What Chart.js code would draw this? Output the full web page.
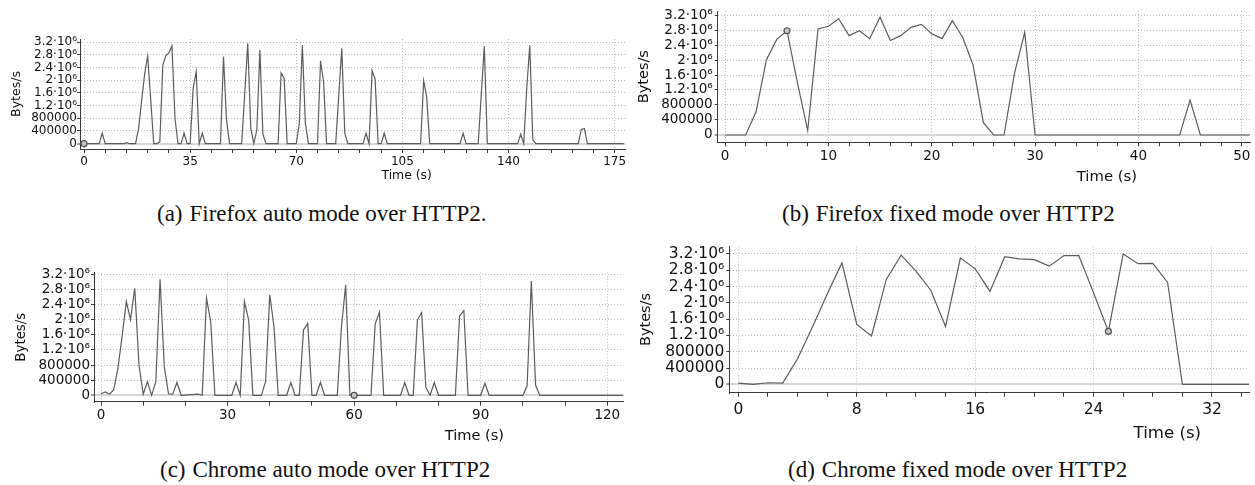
<!DOCTYPE html>
<html>
<head>
<meta charset="utf-8">
<script src="https://cdn.jsdelivr.net/npm/chart.js@4.4.1/dist/chart.umd.min.js"></script>
<style>
  html, body { margin: 0; padding: 0; background: #fff; }
  body { width: 1255px; height: 485px; position: relative; overflow: hidden; }
  canvas { position: absolute; }
  .cap { position: absolute; font-family: "Liberation Serif", "Times New Roman", serif; font-size: 23px; line-height: 1; color: #111; white-space: nowrap; }
  .cap span { margin-right: 7px; }
</style>
</head>
<body>
<canvas id="chartA" width="630" height="195" style="left:0;top:0"></canvas>
<canvas id="chartB" width="635" height="195" style="left:620px;top:0"></canvas>
<canvas id="chartC" width="630" height="200" style="left:0;top:255px"></canvas>
<canvas id="chartD" width="635" height="215" style="left:620px;top:235px"></canvas>

<div class="cap" style="left:157px;top:202px"><span>(a)</span>Firefox auto mode over HTTP2.</div>
<div class="cap" style="left:782px;top:202px"><span>(b)</span>Firefox fixed mode over HTTP2</div>
<div class="cap" style="left:160px;top:458px"><span>(c)</span>Chrome auto mode over HTTP2</div>
<div class="cap" style="left:788px;top:458px"><span>(d)</span>Chrome fixed mode over HTTP2</div>

<script>
// y axis (shared by all four panels)
const yTickValues = [0, 400000, 800000, 1200000, 1600000, 2000000, 2400000, 2800000, 3200000];
const yTickLabels = ['0', '400000', '800000', '1.2·10⁶', '1.6·10⁶', '2·10⁶', '2.4·10⁶', '2.8·10⁶', '3.2·10⁶'];

// (a) Firefox auto mode - time (s) / bytes per second
const aTime = [
    0, 5, 6, 7,  13, 14, 15,  17, 18, 20, 21,
    23, 24, 25, 26, 27, 28, 29, 30,
    31, 32, 33, 34, 35, 36, 37, 38, 39, 40,
    45, 46, 47, 48,  52, 54, 55, 56, 57, 58, 59, 60,
    64, 65, 66, 67,  70, 71, 72, 73, 74,  77, 78, 79, 80,  83, 85, 86, 87,
    92, 93, 94, 95, 96, 97, 98, 99, 100,
    111, 112, 113, 114,  124, 125, 126,  130, 132, 133,
    143, 144, 145, 146, 147, 148, 149,  163, 164, 165, 166,  178
];
const aRate = [
    0, 0, 330000, 0,  0, 30000, 0,  0, 480000, 2200000, 2760000,
    0, 0, 60000, 2480000, 2770000, 2860000, 3080000, 800000,
    0, 0, 330000, 0, 0, 1740000, 2270000, 0, 330000, 0,
    0, 2740000, 740000, 0,  0, 3160000, 480000, 0, 430000, 2950000, 300000, 0,
    0, 2230000, 2060000, 0,  0, 640000, 3100000, 640000, 0,  0, 2600000, 1950000, 0,  0, 3000000, 330000, 0,
    0, 330000, 0, 2300000, 2030000, 0, 0, 330000, 0,
    0, 1980000, 1480000, 0,  0, 330000, 0,  0, 3070000, 0,
    0, 300000, 0, 1740000, 3100000, 120000, 0,  0, 450000, 480000, 0,  0
];

// (b) Firefox fixed mode
const bTime = [0, 2, 3, 4, 5, 6, 7, 8, 9, 10, 11, 12, 13, 14, 15, 16, 17, 18, 19, 20,
    21, 22, 23, 24, 25, 26, 27, 28, 29, 30, 44, 45, 46, 51];
const bRate = [0, 0, 620000, 2000000, 2550000, 2780000, 1400000, 120000, 2830000, 2900000,
    3100000, 2650000, 2780000, 2570000, 3140000, 2520000, 2650000, 2870000, 2950000, 2700000,
    2570000, 3050000, 2600000, 1870000, 330000, 0, 0, 1630000, 2740000, 0, 0, 930000, 0, 0];

// (c) Chrome auto mode
const cTime = [
    0, 1, 2, 3, 4, 5, 6, 7, 8, 9, 10, 11, 12, 13, 14, 15, 16, 17, 18, 19,
    23, 24, 25, 26, 27,
    31, 32, 33, 34, 35, 36,
    38, 39, 40, 41, 42,
    44, 45, 46, 47, 48, 49, 50, 51, 52, 53,
    56, 57, 58, 59, 60,
    64, 65, 66, 67,
    71, 72, 73, 74, 75, 76, 77, 78, 79, 80,
    84, 85, 86, 87,
    90, 91, 92,
    100, 101, 102, 103, 104,
    124
];
const cRate = [
    40000, 90000, 30000, 140000, 710000, 1550000, 2480000, 2000000, 2830000, 800000, 30000, 360000, 0, 360000, 3070000, 760000, 40000, 30000, 340000, 0,
    30000, 0, 2570000, 1950000, 0,
    0, 340000, 0, 2480000, 1990000, 0,
    0, 360000, 2660000, 1820000, 0,
    0, 340000, 0, 0, 1730000, 1900000, 0, 0, 340000, 0,
    0, 1820000, 2920000, 0, 0,
    0, 1890000, 2200000, 0,
    0, 340000, 0, 0, 1990000, 2190000, 210000, 0, 340000, 0,
    0, 2100000, 2240000, 0,
    0, 320000, 0,
    0, 250000, 3020000, 270000, 0,
    0
];

// (d) Chrome fixed mode
const dTime = [0, 1, 2, 3, 4, 5, 6, 7, 8, 9, 10, 11, 12, 13, 14, 15, 16, 17, 18, 19, 20,
    21, 22, 23, 24, 25, 26, 27, 28, 29, 30, 35];
const dRate = [30000, 0, 40000, 30000, 630000, 1400000, 2210000, 2980000, 1470000, 1190000, 2580000,
    3170000, 2780000, 2310000, 1420000, 3100000, 2840000, 2280000, 3130000, 3080000, 3060000,
    2900000, 3160000, 3160000, 2250000, 1300000, 3200000, 2960000, 2970000, 2500000, 0, 0];

const FONT = '"DejaVu Sans", Verdana, sans-serif';
const AXIS = '#3a3a3a';
const GRID = '#bdbdbd';
const ZERO = '#d6d6d6';

const ticksEvery = (step, last) => Array.from({ length: Math.floor(last / step) + 1 }, (_, i) => i * step);

// "Time (s)" sits right of centre in every panel, so place it by an x value
const timeTitle = {
    id: 'timeTitle',
    afterDraw(chart, args, opts) {
        const { ctx, scales: { x } } = chart;
        ctx.save();
        ctx.font = opts.size + 'px ' + FONT;
        ctx.fillStyle = '#111';
        ctx.textAlign = 'center';
        ctx.textBaseline = 'middle';
        ctx.fillText(opts.text, x.getPixelForValue(opts.at), opts.y);
        ctx.restore();
    }
};

function buildPanel(p) {
    const markIndex = p.time.indexOf(p.mark);
    return new Chart(document.getElementById(p.id), {
        type: 'line',
        data: {
            datasets: [{
                data: p.time.map((t, i) => ({ x: t, y: p.rate[i] })),
                borderColor: '#5c5c5c',
                borderWidth: 1.2,
                tension: 0,
                fill: false,
                pointRadius: c => (c.dataIndex === markIndex ? 3 : 0),
                pointHoverRadius: 0,
                pointBorderColor: '#505050',
                pointBackgroundColor: '#c4c4c4',
                pointBorderWidth: 1.2
            }]
        },
        options: {
            responsive: false,
            animation: false,
            events: [],
            layout: { padding: p.pad },
            plugins: {
                legend: { display: false },
                tooltip: { enabled: false },
                timeTitle: { text: 'Time (s)', at: p.titleAt, y: p.titleY, size: p.titleSize }
            },
            scales: {
                x: {
                    type: 'linear',
                    min: p.xMin, max: p.xMax, bounds: 'data',
                    afterBuildTicks: s => { s.ticks = p.xTicks.map(v => ({ value: v })); },
                    afterFit: s => { s.height = p.xHeight; },
                    ticks: {
                        autoSkip: false, maxRotation: 0, padding: p.xPad, color: '#111',
                        font: { family: FONT, size: p.tickSize },
                        callback: v => (v % p.xMajor === 0 ? String(v) : '')
                    },
                    grid: {
                        color: c => (c.tick && c.tick.value % p.xMajor === 0 ? GRID : 'rgba(0,0,0,0)'),
                        lineWidth: 1, tickColor: AXIS, tickLength: 4, tickWidth: 1
                    },
                    border: { color: AXIS, width: 1, dash: c => (c.type === 'tick' ? [1, 2] : []) }
                },
                y: {
                    min: p.yMin, max: p.yMax, bounds: 'data',
                    afterBuildTicks: s => { s.ticks = yTickValues.map(v => ({ value: v })); },
                    afterFit: s => { s.width = p.yWidth; },
                    ticks: {
                        autoSkip: false, padding: p.yPad, color: '#111',
                        font: { family: FONT, size: p.tickSize },
                        callback: v => yTickLabels[yTickValues.indexOf(v)] ?? ''
                    },
                    grid: {
                        color: c => (c.tick && c.tick.value === 0 ? ZERO : GRID),
                        lineWidth: c => (c.tick && c.tick.value === 0 ? 2 : 1),
                        tickColor: AXIS, tickLength: 3, tickWidth: 1
                    },
                    border: {
                        color: AXIS, width: 1,
                        dash: c => (c.type === 'tick' && c.tick.value !== 0 ? [1, 2] : [])
                    },
                    title: {
                        display: true, text: 'Bytes/s', color: '#111',
                        font: { family: FONT, size: p.yTitleSize, lineHeight: 1.2 },
                        padding: { top: p.yTitlePad, bottom: 0 }
                    }
                }
            }
        },
        plugins: [timeTitle]
    });
}

buildPanel({
    id: 'chartA', time: aTime, rate: aRate, mark: 0,
    pad: { top: 39, right: 5, left: 0, bottom: 0 }, yWidth: 80, xHeight: 46,
    xMin: -1.32, xMax: 178.4, yMin: -166800, yMax: 3295000,
    xTicks: ticksEvery(7, 175), xMajor: 35,
    tickSize: 12, xPad: 2, yPad: 0,
    yTitleSize: 12.5, yTitlePad: 9.5,
    titleAt: 106.4, titleY: 176, titleSize: 12.4
});

buildPanel({
    id: 'chartB', time: bTime, rate: bRate, mark: 6,
    pad: { top: 11, right: 5, left: 0, bottom: 0 }, yWidth: 97.7, xHeight: 52.7,
    xMin: -0.71, xMax: 50.8, yMin: -195000, yMax: 3307000,
    xTicks: ticksEvery(2, 50), xMajor: 10,
    tickSize: 13.5, xPad: 2, yPad: 2,
    yTitleSize: 14.5, yTitlePad: 15.3,
    titleAt: 36.95, titleY: 176.7, titleSize: 14.8
});

buildPanel({
    id: 'chartC', time: cTime, rate: cRate, mark: 60,
    pad: { top: 17.7, right: 6.7, left: 0, bottom: 0 }, yWidth: 94, xHeight: 53.3,
    xMin: -1.66, xMax: 123.8, yMin: -169000, yMax: 3242000,
    xTicks: ticksEvery(10, 120), xMajor: 30,
    tickSize: 13.5, xPad: 2, yPad: 1,
    yTitleSize: 13.4, yTitlePad: 13,
    titleAt: 88.5, titleY: 181, titleSize: 14.6
});

buildPanel({
    id: 'chartD', time: dTime, rate: dRate, mark: 25,
    pad: { top: 10, right: 6, left: 0, bottom: 0 }, yWidth: 109.3, xHeight: 57.3,
    xMin: -0.61, xMax: 34.5, yMin: -204000, yMax: 3387000,
    xTicks: ticksEvery(2, 34), xMajor: 8,
    tickSize: 15.5, xPad: 4, yPad: 2,
    yTitleSize: 14.5, yTitlePad: 17.3,
    titleAt: 28.98, titleY: 199, titleSize: 16.6
});
</script>
</body>
</html>
